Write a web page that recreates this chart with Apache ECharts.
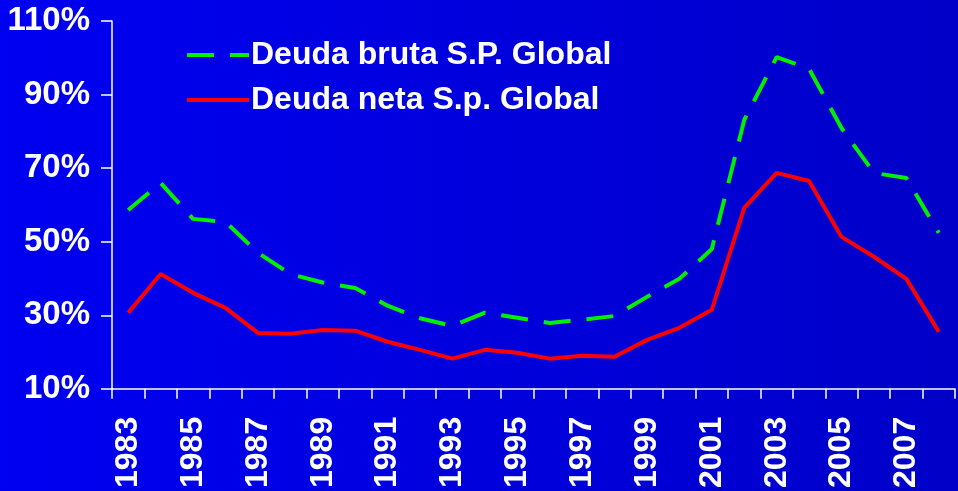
<!DOCTYPE html>
<html><head><meta charset="utf-8">
<script src="https://cdn.jsdelivr.net/npm/echarts@6/dist/echarts.min.js"></script>
<style>html,body{margin:0;padding:0;}#c{width:958px;height:491px;}</style>
</head><body><div id="c"></div>
<script>
const years = ['1983','1984','1985','1986','1987','1988','1989','1990','1991','1992','1993','1994','1995','1996','1997','1998','1999','2000','2001','2002','2003','2004','2005','2006','2007','2008'];
const deudaBruta = [58.6,66,56.2,55.4,47,41.2,38.9,37.4,32.6,29.2,27.1,30.7,29.3,27.9,28.8,29.8,35,39.9,48,83.1,100.2,97,80.9,68.7,67.3,52.4];
const deudaNeta = [30.7,41.2,36.1,32,25.2,25,26,25.8,22.8,20.6,18.2,20.6,19.8,18.2,19,18.7,23.3,26.6,31.5,59.2,68.7,66.5,51.3,45.9,39.9,25.5];
const seriesNames = ['Deuda bruta S.P. Global','Deuda neta S.p. Global'];

const FONT = '"Liberation Sans", Arial, sans-serif';
const chart = echarts.init(document.getElementById('c'));
chart.setOption({
  backgroundColor: new echarts.graphic.LinearGradient(0,0,1,0,[{offset:0,color:'#0000F2'},{offset:1,color:'#0000C8'}]),
  animation:false,
  grid:{left:112,top:21,right:3,bottom:102,containLabel:false},
  legend:{
    orient:'vertical', left:180, top:34, itemWidth:62, itemHeight:14, itemGap:13,
    itemStyle:{opacity:0, borderWidth:0},
    lineStyle:{width:4},
    textStyle:{color:'#fff',fontSize:32,fontWeight:'bold',fontFamily:FONT,lineHeight:32, padding:[0,0,0,-3]},
    data:seriesNames
  },
  xAxis:{
    type:'category', data:years, boundaryGap:true,
    axisLine:{lineStyle:{color:'#fff',width:1.5}},
    axisTick:{show:true,interval:0,length:10,lineStyle:{color:'#fff',width:1.5}},
    axisLabel:{interval:1,rotate:90,margin:28,color:'#fff',fontSize:32,fontWeight:'bold',fontFamily:FONT}
  },
  yAxis:{
    type:'value', min:10, max:110, interval:20,
    splitLine:{show:false},
    axisLine:{show:true,lineStyle:{color:'#fff',width:1.5}},
    axisTick:{show:true,length:11,lineStyle:{color:'#fff',width:1.5}},
    axisLabel:{margin:22,color:'#fff',fontSize:33,fontWeight:'bold',fontFamily:FONT,formatter:v=>v+'%'}
  },
  series:[
    {name:seriesNames[0],type:'line',data:deudaBruta,symbol:'none',color:'#00F000',
     lineStyle:{color:'#00F000',width:4,type:[27,16]}},
    {name:seriesNames[1],type:'line',data:deudaNeta,symbol:'none',color:'#FF0000',
     lineStyle:{color:'#FF0000',width:4}}
  ]
});
</script></body></html>
